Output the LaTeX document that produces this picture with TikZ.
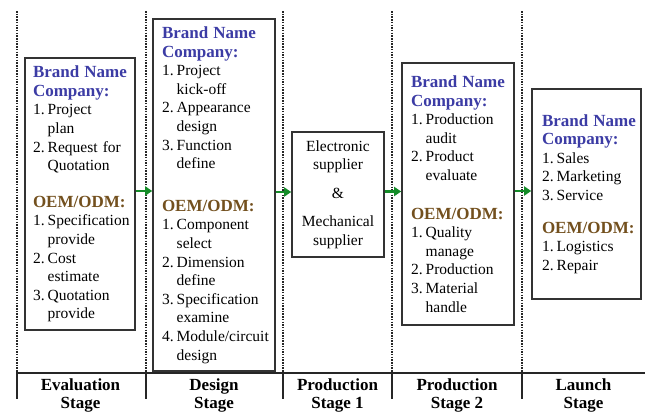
\documentclass[tikz,border=0pt]{standalone}
\usepackage{fontspec}
\setmainfont{Liberation Serif}
\usetikzlibrary{arrows.meta}
\definecolor{brandblue}{RGB}{60,60,165}
\definecolor{oembrown}{RGB}{115,80,30}
\definecolor{flowgreen}{RGB}{20,140,40}
\hyphenpenalty=10000
\exhyphenpenalty=10000
% numbered item and its continuation line
\newcommand{\li}[2]{\makebox[0.95em][l]{#1}#2}
\newcommand{\lc}[1]{\hspace*{0.95em}#1}
\newcommand{\bhd}[1]{\textcolor{brandblue}{\bfseries\fontsize{17}{18.6}\selectfont #1}}
\newcommand{\ohd}[1]{\textcolor{oembrown}{\bfseries\fontsize{17}{18.6}\selectfont #1}}
\begin{document}
\begin{tikzpicture}[x=1pt,y=-1pt,
    box/.style={draw=black!80,line width=1.6pt,fill=white,inner xsep=8pt,align=left,
        font=\fontsize{15.5}{18.6}\selectfont},
    flow/.style={draw=flowgreen,line width=2.6pt,-{Triangle[length=7pt,width=9pt]}},
    stagelbl/.style={align=center,font=\bfseries\fontsize{17}{18}\selectfont},
    sepline/.style={black!85,line width=2.4pt,dash pattern=on 1.5pt off 1.2pt}]
        \useasboundingbox (0,0) rectangle (645,415);
        % stage separators
        \foreach \x in {17,146,283,392,522} {
            \draw [sepline] (\x,11) -- (\x,372);
            \draw [black!85,line width=2pt] (\x,372) -- (\x,399);
        }
        \draw [black!85,line width=2pt] (16,373) -- (645,373);

        \node [box,text width=94pt,minimum width=110pt,minimum height=272pt] (eval) at (80,194) {
            \bhd{Brand~Name}\\
            \bhd{Company:}\\
            \li{1.}{Project}\\
            \lc{plan}\\
            \li{2.}{Request for}\\
            \lc{Quotation}\\[18pt]
            \ohd{OEM/ODM:}\\
            \li{1.}{Specification}\\
            \lc{provide}\\
            \li{2.}{Cost}\\
            \lc{estimate}\\
            \li{3.}{Quotation}\\
            \lc{provide}
        };
        \node [box,text width=104pt,inner xsep=9pt,minimum width=122pt,minimum height=352pt] (design) at (214,195) {
            \bhd{Brand~Name}\\
            \bhd{Company:}\\
            \li{1.}{Project}\\
            \lc{kick-off}\\
            \li{2.}{Appearance}\\
            \lc{design}\\
            \li{3.}{Function}\\
            \lc{define}\\[24pt]
            \ohd{OEM/ODM:}\\
            \li{1.}{Component}\\
            \lc{select}\\
            \li{2.}{Dimension}\\
            \lc{define}\\
            \li{3.}{Specification}\\
            \lc{examine}\\
            \li{4.}{Module/circuit}\\
            \lc{design}
        };
        \node [box,align=center,text width=76pt,minimum width=92pt,minimum height=125pt] (supplier) at (338,194.5) {
            Electronic\\
            supplier\\[10pt]
            \&\\[10pt]
            Mechanical\\
            supplier
        };
        \node [box,text width=94pt,inner xsep=9pt,minimum width=112pt,minimum height=262pt] (prod) at (458,194) {
            \bhd{Brand~Name}\\
            \bhd{Company:}\\
            \li{1.}{Production}\\
            \lc{audit}\\
            \li{2.}{Product}\\
            \lc{evaluate}\\[20pt]
            \ohd{OEM/ODM:}\\
            \li{1.}{Quality}\\
            \lc{manage}\\
            \li{2.}{Production}\\
            \li{3.}{Material}\\
            \lc{handle}
        };
        \node [box,text width=89pt,inner xsep=10pt,minimum width=109pt,minimum height=210pt] (launch) at (586.5,194) {
            \bhd{Brand~Name}\\
            \bhd{Company:}\\
            \li{1.}{Sales}\\
            \li{2.}{Marketing}\\
            \li{3.}{Service}\\[14pt]
            \ohd{OEM/ODM:}\\
            \li{1.}{Logistics}\\
            \li{2.}{Repair}
        };

        \draw [flow] ([yshift=3pt]eval.east) -- ([yshift=3pt]eval.east -| design.west);
        \draw [flow] ([yshift=3pt]design.east) -- ([yshift=3pt]design.east -| supplier.west);
        \draw [flow] ([yshift=3pt]supplier.east) -- ([yshift=3pt]supplier.east -| prod.west);
        \draw [flow] ([yshift=3pt]prod.east) -- ([yshift=3pt]prod.east -| launch.west);

        % stage names
        \node [stagelbl] (evallbl) at (80.5,395) {Evaluation\\Stage};
        \node [stagelbl] (designlbl) at (214,395) {Design\\Stage};
        \node [stagelbl] (prod1lbl) at (337.5,395) {Production\\Stage 1};
        \node [stagelbl] (prod2lbl) at (457,395) {Production\\Stage 2};
        \node [stagelbl] (launchlbl) at (583.5,395) {Launch\\Stage};
\end{tikzpicture}
\end{document}
